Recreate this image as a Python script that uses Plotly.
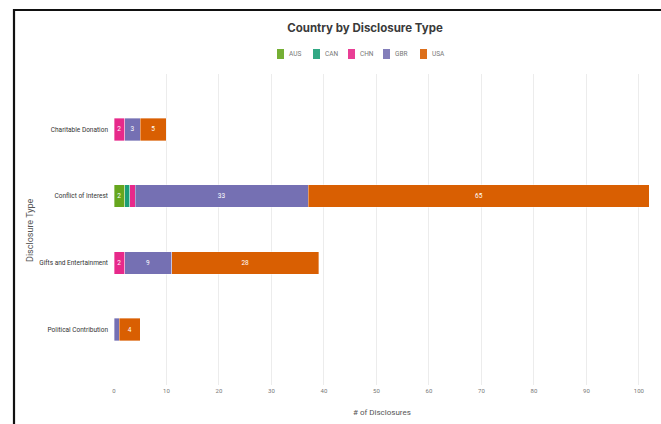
import plotly.graph_objects as go

# Disclosure counts per type, split by country
categories = ["Charitable Donation", "Conflict of Interest", "Gifts and Entertainment", "Political Contribution"]
countries = ["AUS", "CAN", "CHN", "GBR", "USA"]
aus = [0, 2, 0, 0]
can = [0, 1, 0, 0]
chn = [2, 1, 2, 0]
gbr = [3, 33, 9, 1]
usa = [5, 65, 28, 4]
series = [aus, can, chn, gbr, usa]
colors = ["#66a61e", "#1b9e77", "#e7298a", "#7570b3", "#d95f02"]

W, H = 661, 424
L, R, T, B = 114, 10, 74, 39
pw, ph = W - L - R, H - T - B


def px_x(x):
    return (x - L) / pw


def px_y(y):
    return (H - B - y) / ph


narrow = "Liberation Sans Narrow, Arial Narrow, Roboto"

fig = go.Figure()
for name, vals, col in zip(countries, series, colors):
    labels = [str(v) if v > 1 else "" for v in vals]
    fig.add_trace(go.Bar(
        y=categories, x=vals, name=name, orientation="h",
        marker=dict(color=col, line=dict(color="rgba(255,255,255,0.6)", width=0.6)),
        width=0.34,
        text=labels, textposition="inside", insidetextanchor="middle",
        textangle=0, constraintext="none",
        textfont=dict(color="white", size=6.5, family="Roboto"),
        hoverinfo="x+name",
        showlegend=False,
    ))

fig.update_layout(
    width=W, height=H,
    margin=dict(l=L, r=R, t=T, b=B),
    barmode="stack",
    plot_bgcolor="white", paper_bgcolor="white",
    font=dict(family="Roboto", color="#555555"),
    title=dict(text="<b>Country by Disclosure Type</b>", x=365 / W, xanchor="center",
               y=1 - 28 / H, yanchor="middle",
               font=dict(size=11.5, color="#3a3a3a", family="Inter")),
    xaxis=dict(range=[0, 102.3], dtick=10, showgrid=True, gridcolor="#ececec", gridwidth=1,
               zeroline=False, showline=False, ticks="",
               tickfont=dict(size=6, color="#777777", family=narrow),
               ticklabelstandoff=1),
    yaxis=dict(categoryorder="array", categoryarray=categories, autorange=False,
               range=[3.83, -0.83], showgrid=False, zeroline=False, ticks="",
               tickfont=dict(size=6.5, color="#333333", family=narrow), ticklabelstandoff=5),
)

# legend: small colour swatches with country codes
legend_x = [277, 313, 348, 383, 420]
for name, col, lx in zip(countries, colors, legend_x):
    fig.add_shape(type="rect", xref="paper", yref="paper",
                  x0=px_x(lx), x1=px_x(lx + 7), y0=px_y(49), y1=px_y(59),
                  fillcolor=col, line=dict(width=0), opacity=0.9)
    fig.add_annotation(text=name, xref="paper", yref="paper",
                       x=px_x(lx + 10), y=px_y(54), xanchor="left", yanchor="middle",
                       showarrow=False, font=dict(size=6.5, color="#777777", family=narrow))

# axis titles
fig.add_annotation(text="Disclosure Type", textangle=-90, xref="paper", yref="paper",
                   x=px_x(30), y=px_y(230), xanchor="center", yanchor="middle", showarrow=False,
                   font=dict(size=9, color="#555555"))
fig.add_annotation(text="# of Disclosures", xref="paper", yref="paper",
                   x=px_x(382), y=px_y(412), xanchor="center", yanchor="middle", showarrow=False,
                   font=dict(size=8, color="#555555", family=narrow))

# dark frame along the top and left edges
fig.add_shape(type="line", xref="paper", yref="paper",
              x0=px_x(14), x1=px_x(665), y0=px_y(10), y1=px_y(10),
              line=dict(color="#111111", width=2.2))
fig.add_shape(type="line", xref="paper", yref="paper",
              x0=px_x(14), x1=px_x(14), y0=px_y(9), y1=px_y(428),
              line=dict(color="#111111", width=2.2))

fig.write_html("out.html")
